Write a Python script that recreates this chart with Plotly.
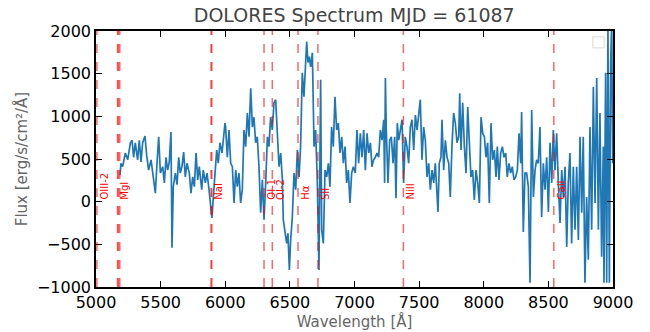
import plotly.graph_objects as go

# Spectrum (wavelength in Angstrom, flux in erg/s/cm^2/A)
wavelength = [
    5186, 5193, 5206, 5227, 5245, 5266, 5279, 5291, 5304, 5322, 5335, 5348, 5361, 5379, 5392,
    5407, 5426, 5444, 5459, 5472, 5485, 5498, 5516, 5529, 5542, 5554, 5567, 5580, 5588, 5598,
    5614, 5627, 5640, 5652, 5665, 5678, 5691, 5704, 5722, 5735, 5748, 5761, 5774, 5787, 5799,
    5818, 5830, 5846, 5859, 5872, 5885, 5897, 5910, 5923, 5934, 5946, 5959, 5975, 5988, 5998,
    6003, 6016, 6029, 6042, 6055, 6068, 6081, 6093, 6106, 6119, 6132, 6145, 6158, 6171, 6184,
    6197, 6210, 6222, 6235, 6248, 6261, 6274, 6287, 6300, 6313, 6326, 6338, 6351, 6364, 6377,
    6390, 6398, 6416, 6429, 6442, 6449, 6462, 6475, 6485, 6496, 6506, 6519, 6532, 6545, 6558,
    6571, 6583, 6596, 6609, 6622, 6630, 6640, 6650, 6661, 6674, 6687, 6699, 6712, 6725, 6738,
    6746, 6759, 6772, 6785, 6798, 6810, 6823, 6836, 6849, 6862, 6875, 6888, 6901, 6914, 6927,
    6939, 6952, 6965, 6978, 6991,
    7006, 7019, 7032, 7045, 7058, 7071, 7084, 7097, 7110, 7123, 7135, 7148, 7161, 7174, 7187,
    7200, 7213, 7226, 7233, 7239, 7246, 7259, 7272, 7285, 7298, 7311, 7321, 7331, 7342, 7355,
    7368, 7380, 7393, 7406, 7419, 7432, 7445, 7458, 7471, 7484, 7497, 7509, 7522, 7535, 7548,
    7561, 7574, 7587, 7600, 7613, 7625, 7638, 7646, 7656, 7669, 7677, 7690, 7703, 7716, 7729,
    7741, 7754, 7767, 7780, 7793, 7806, 7814, 7824, 7837, 7850, 7863, 7876, 7889, 7901, 7914,
    7927, 7940, 7953, 7966, 7979,
    7992, 8005, 8017, 8030, 8043, 8056, 8069, 8082, 8095, 8105, 8118, 8131, 8144, 8157, 8170,
    8182, 8195, 8208, 8221, 8234, 8247, 8260, 8273, 8286, 8293, 8306, 8319, 8332, 8345, 8358,
    8371, 8384, 8397, 8409, 8422, 8435, 8448, 8461, 8474, 8487, 8500, 8513, 8526, 8538, 8551,
    8564, 8577, 8590, 8603, 8616, 8629, 8642, 8654, 8667, 8680, 8693, 8706, 8719, 8732, 8745,
    8758, 8770, 8783, 8796, 8809, 8822, 8835, 8848, 8861, 8874, 8887, 8899, 8912, 8925, 8930,
    8943, 8951, 8961, 8972, 8982, 8990, 8997,
]
flux = [
    313, 450, 410, 570, 490, 690, 720, 520, 690, 490, 720, 465, 690, 770, 545,
    370, 490, 290, 100, 450, 760, 335, 410, 220, 520, 370, 465, 815, -540, 175,
    335, 200, 520, 335, 410, 580, 290, 450, 335, 100, 290, 175, 570, 255, 410,
    140, 370, 220, 335, 175, -15, -190, 100, 370, 605, 450, 690, 570, 800, 920,
    875, 520, 840, 450, 410, -15, 370, 175, 335, -15, 140, 840, 645, 1040, 760,
    1330, 875, 990, 690, 760, 410, -130, 255, -210, 220, 760, 645, 990, 840, 1160,
    1195, 920, 410, 570, 255, -210, -330, -490, -370, -800, -450, -180, 335, 140, 605,
    290, 645, 1510, 1230, 1780, 1875, 1630, 1700, 1580, 1745, 645, 840, 255, -800, 1430,
    -330, -490, 370, 290, 450, 175, 875, 645, 1230, 840, 920, 570, 760, 450, 645,
    220, 370, -15, 335, 410,
    335, 840, 450, 800, 520, 840, 370, 800, 570, 690, 410, 490, 520, 570, 520,
    840, 720, 960, 220, 1450, 840, 220, 720, 760, 450, 760, 40, 920, 720, 840,
    960, 220, 760, 645, 450, 875, 960, 605, 1015, 840, 990, 1195, 490, 875, 720,
    290, 450, 140, 370, 220, 450, 55, -120, 450, 520, 960, 370, 720, 520, 450,
    55, 645, 1040, 920, 690, 760, 1270, 605, 1160, 645, 335, 1110, 720, 290, 370,
    20, 370, 220, -15, 990,
    800, 760, 520, 690, -15, 920, 490, 605, 290, 645, 255, 570, 645, 520, 570,
    290, 450, 335, 410, 255, 290, 370, 800, 450, 1050, -355, 335, 335, 175, -950,
    1075, 55, 370, 490, 450, 875, -180, 450, 140, 520, -120, 690, 220, 840, 370,
    800, 220, -250, 370, 55, 410, -530, 220, 570, -490, 410, -330, 410, -450, 760,
    -130, 760, -950, 55, -680, 875, -330, 1345, -15, 1450, -330, 1040, -645, 645, -950,
    1510, -950, 2010, -950, 1630, 2100, 450,
]

# Line identifications
line_names = ["OIII-2", "MgI", "", "", "NaI", "", "OI-1", "OI-2", "H\u03b1", "SII", "NiII", "CaII"]
line_waves = [5007, 5167, 5173, 5184, 5890, 5896, 6300, 6364, 6563, 6717, 7378, 8542]

x_ticks = [5000, 5500, 6000, 6500, 7000, 7500, 8000, 8500, 9000]
y_ticks = [-1000, -500, 0, 500, 1000, 1500, 2000]

fig = go.Figure()
fig.add_trace(go.Scatter(
    x=wavelength, y=flux, mode="lines",
    line=dict(color="#1f77b4", width=1.7),
    showlegend=False,
))

for name, w in zip(line_names, line_waves):
    fig.add_vline(x=w, line=dict(color="rgba(255,0,0,0.6)", width=1.5, dash="dash"))
    if name:
        fig.add_annotation(
            x=w, y=0, text=name, textangle=-90, showarrow=False,
            xanchor="left", yanchor="bottom", xshift=0,
            font=dict(size=10, color="red", family="DejaVu Sans"),
        )

# empty legend box
fig.add_shape(type="rect", xref="x domain", yref="y domain",
              x0=0.961, x1=0.983, y0=0.934, y1=0.977,
              line=dict(color="#d9d9d9", width=1), fillcolor="white")

axis_common = dict(
    showgrid=False, zeroline=False, showline=True, linecolor="black", linewidth=1.5,
    mirror="ticks", ticks="inside", ticklen=6, tickwidth=1.2, tickcolor="black",
    tickfont=dict(size=16, color="black", family="DejaVu Sans"),
    automargin=False,
)

fig.update_layout(
    width=650, height=332,
    margin=dict(l=96, r=37, t=31, b=45),
    paper_bgcolor="white", plot_bgcolor="white",
    title=dict(text="DOLORES Spectrum MJD = 61087", x=0.545, xanchor="center",
               y=0.955, yanchor="middle",
               font=dict(size=19, color="#444444", family="DejaVu Sans")),
    xaxis=dict(range=[5000, 9000], tickvals=x_ticks,
               title=dict(text="Wavelength [\u00c5]", standoff=6,
                          font=dict(size=15, color="#666666", family="DejaVu Sans")),
               **axis_common),
    yaxis=dict(range=[-1000, 2000], tickvals=y_ticks,
               title=dict(text="Flux [erg/s/cm\u00b2/\u00c5]", standoff=6,
                          font=dict(size=15, color="#666666", family="DejaVu Sans")),
               **axis_common),
)

fig.write_html("out.html")
